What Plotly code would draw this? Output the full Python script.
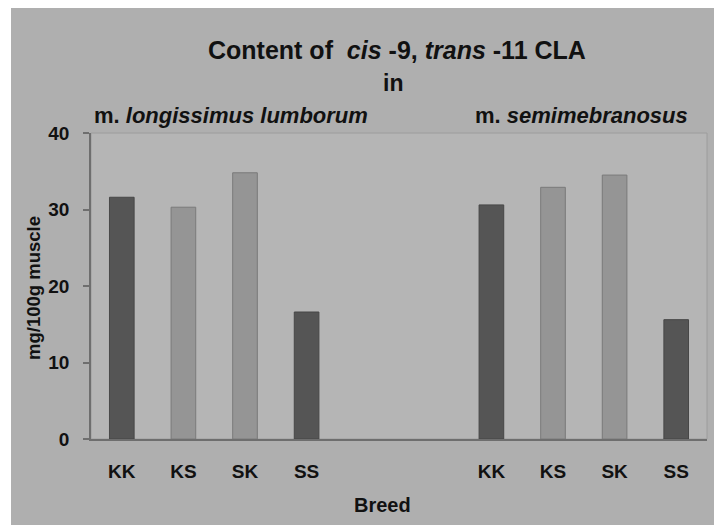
import plotly.graph_objects as go

# Data
breeds = ["KK", "KS", "SK", "SS"]
longissimus = [31.6, 30.3, 34.8, 16.6]
semimembranosus = [30.6, 32.9, 34.5, 15.6]
y_ticks = [0, 10, 20, 30, 40]

pos_left = [0, 1, 2, 3]
pos_right = [6, 7, 8, 9]

dark = "#555555"
light = "#959595"
bar_colors = [dark, light, light, dark]
line_colors = ["#474747", "#7a7a7a", "#7a7a7a", "#474747"]

FONT = "Liberation Sans, Arial, sans-serif"

fig = go.Figure()
fig.add_trace(go.Bar(x=pos_left, y=longissimus, width=0.4,
                     marker=dict(color=bar_colors, line=dict(color=line_colors, width=1)),
                     showlegend=False))
fig.add_trace(go.Bar(x=pos_right, y=semimembranosus, width=0.4,
                     marker=dict(color=bar_colors, line=dict(color=line_colors, width=1)),
                     showlegend=False))

W, H = 717, 525
L, R, T, B = 91, 10, 133, 86
pw, ph = W - L - R, H - T - B

def px(x):
    return (x - L) / pw

def py(y):
    return (H - B - y) / ph

shapes = [
    # white strips around the grey panel
    dict(type="rect", xref="paper", yref="paper", x0=px(0), x1=px(11), y0=py(H), y1=py(0),
         fillcolor="white", line=dict(width=0), layer="below"),
    dict(type="rect", xref="paper", yref="paper", x0=px(0), x1=px(W), y0=py(8), y1=py(0),
         fillcolor="white", line=dict(width=0), layer="below"),
    dict(type="rect", xref="paper", yref="paper", x0=px(714), x1=px(W), y0=py(H), y1=py(0),
         fillcolor="white", line=dict(width=0), layer="below"),
    # plot area border
    dict(type="rect", xref="paper", yref="paper", x0=0, x1=1, y0=0, y1=1,
         line=dict(color="#9c9c9c", width=1), layer="below"),
]

annotations = [
    dict(text="Content of  <i>cis</i> -9, <i>trans</i> -11 CLA", x=px(397), y=py(50),
         xref="paper", yref="paper", showarrow=False, xanchor="center", yanchor="middle",
         font=dict(family=FONT, size=25, color="#111111")),
    dict(text="in", x=px(393), y=py(83), xref="paper", yref="paper", showarrow=False,
         xanchor="center", yanchor="middle", font=dict(family=FONT, size=23, color="#111111")),
    dict(text="m. <i>longissimus lumborum</i>", x=px(92), y=py(115), xref="paper", yref="paper",
         showarrow=False, xanchor="left", yanchor="middle",
         font=dict(family=FONT, size=22, color="#111111")),
    dict(text="m. <i>semimebranosus</i>", x=px(690), y=py(115), xref="paper", yref="paper",
         showarrow=False, xanchor="right", yanchor="middle",
         font=dict(family=FONT, size=22, color="#111111")),
    dict(text="Breed", x=px(382), y=py(505), xref="paper", yref="paper", showarrow=False,
         xanchor="center", yanchor="middle", font=dict(family=FONT, size=20, color="#111111")),
    dict(text="mg/100g muscle", x=px(33), y=py(288), xref="paper", yref="paper", showarrow=False,
         xanchor="center", yanchor="middle", textangle=-90,
         font=dict(family=FONT, size=18.5, color="#111111")),
]

fig.update_layout(
    width=W, height=H,
    margin=dict(l=L, r=R, t=T, b=B, pad=0),
    paper_bgcolor="#afafaf",
    plot_bgcolor="#b5b5b5",
    bargap=0.6,
    shapes=shapes,
    annotations=annotations,
    font=dict(family=FONT, size=18, color="#111111"),
    xaxis=dict(
        range=[-0.5, 9.5],
        tickvals=pos_left + pos_right,
        ticktext=breeds + breeds,
        ticks="", showgrid=False, zeroline=False,
        showline=True, linecolor="#6e6e6e", linewidth=1.5,
        tickfont=dict(family=FONT, size=19, color="#111111"),
        ticklabelstandoff=14,
    ),
    yaxis=dict(
        range=[0, 40],
        tickvals=y_ticks,
        ticks="outside", ticklen=6, tickcolor="#6e6e6e", tickwidth=1.5,
        showgrid=False, zeroline=False,
        showline=True, linecolor="#6e6e6e", linewidth=1.5,
        tickfont=dict(family=FONT, size=19, color="#111111"),
        ticklabelstandoff=10,
    ),
)

fig.update_xaxes(tickfont_weight="bold")
fig.update_yaxes(tickfont_weight="bold")
for a in fig.layout.annotations:
    a.font.weight = "bold"

fig.write_html("out.html", config={"displayModeBar": False},
               post_script="document.body.style.margin='0';")
